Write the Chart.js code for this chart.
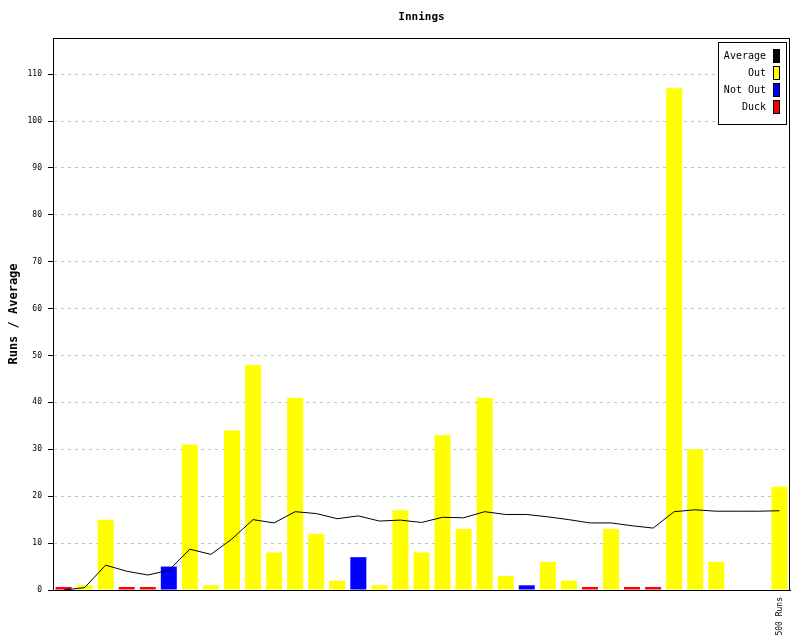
<!DOCTYPE html>
<html>
<head>
<meta charset="utf-8">
<title>Innings</title>
<script src="https://cdn.jsdelivr.net/npm/chart.js@4.4.0/dist/chart.umd.min.js"></script>
<style>
  html, body { margin: 0; padding: 0; background: #fff; }
  #wrap { width: 800px; height: 640px; }
</style>
</head>
<body>
<div id="wrap"><canvas id="inningsChart" width="800" height="640"></canvas></div>
<script>
// innings data
const inningsLabels = ['', '', '', '', '', '', '', '', '', '', '', '', '', '', '', '', '', '',
  '', '', '', '', '', '', '', '', '', '', '', '', '', '', '', '', '500 Runs'];

const outRuns = [null, 1, 15, null, null, null, 31, 1, 34, 48, 8, 41, 12, 2, null, 1, 17, 8,
  33, 13, 41, 3, null, 6, 2, null, 13, null, null, 107, 30, 6, null, null, 22];

const notOutRuns = [null, null, null, null, null, 5, null, null, null, null, null, null, null, null, 7, null, null, null,
  null, null, null, null, 1, null, null, null, null, null, null, null, null, null, 0, 0, null];

const duckRuns = [0, null, null, 0, 0, null, null, null, null, null, null, null, null, null, null, null, null, null,
  null, null, null, null, null, null, null, 0, null, 0, 0, null, null, null, null, null, null];

const averageRuns = [0, 0.5, 5.3, 4, 3.2, 4.2, 8.7, 7.6, 10.9, 15, 14.3, 16.7, 16.3, 15.2, 15.8, 14.7, 14.9, 14.4,
  15.5, 15.4, 16.7, 16.1, 16.1, 15.6, 15, 14.3, 14.3, 13.7, 13.2, 16.7, 17.1, 16.8, 16.8, 16.8, 16.9];

const MONO = '"DejaVu Sans Mono", "Liberation Mono", monospace';

// title, frame round the plot and the boxed legend in the top right corner
const innerBits = {
  id: 'innerBits',
  afterDraw(chart) {
    const ctx = chart.ctx;
    const a = chart.chartArea;
    ctx.save();

    ctx.fillStyle = '#000';
    ctx.font = 'bold 11px ' + MONO;
    ctx.textAlign = 'center';
    ctx.textBaseline = 'middle';
    ctx.fillText('Innings', (a.left + a.right) / 2, 17);

    ctx.strokeStyle = '#000';
    ctx.lineWidth = 1;
    ctx.strokeRect(Math.round(a.left) + 0.5, Math.round(a.top) + 0.5,
      Math.round(a.right - a.left) - 1, Math.round(a.bottom - a.top));

    const bx = Math.round(a.right) - 72, by = Math.round(a.top) + 4;
    ctx.fillStyle = '#fff';
    ctx.fillRect(bx, by, 68, 82);
    ctx.strokeRect(bx + 0.5, by + 0.5, 68, 82);

    ctx.font = '10px ' + MONO;
    ctx.textAlign = 'right';
    chart.data.datasets.forEach(function (ds, i) {
      const y = by + 14 + i * 17;
      ctx.fillStyle = '#000';
      ctx.fillText(ds.label, bx + 48, y);
      ctx.fillStyle = ds.legendColor;
      ctx.fillRect(bx + 55, y - 7, 7, 14);
      ctx.strokeRect(bx + 55.5, y - 6.5, 6, 13);
    });
    ctx.restore();
  }
};

document.addEventListener("DOMContentLoaded", function () {

  const data = {
    labels: inningsLabels,
    datasets: [{
      type: 'line',
      label: 'Average',
      data: averageRuns,
      borderColor: '#000',
      borderWidth: 1,
      pointRadius: 0,
      tension: 0,
      legendColor: '#000'
    }, {
      label: 'Out',
      data: outRuns,
      backgroundColor: '#ffff00',
      legendColor: '#ffff00'
    }, {
      label: 'Not Out',
      data: notOutRuns,
      backgroundColor: '#0000ff',
      legendColor: '#0000ff'
    }, {
      label: 'Duck',
      data: duckRuns,
      backgroundColor: '#ff0000',
      minBarLength: 3,
      legendColor: '#ff0000'
    }]
  };

  const config = {
    type: 'bar',
    data,
    options: {
      responsive: false,
      animation: false,
      layout: { padding: { top: 38, right: 10, left: 0, bottom: 0 } },
      datasets: {
        bar: { barPercentage: 0.76, categoryPercentage: 1 }
      },
      scales: {
        x: {
          stacked: true,
          grid: { display: false, drawTicks: false, tickLength: 0 },
          border: { color: '#000', width: 1 },
          ticks: {
            autoSkip: false,
            minRotation: 90,
            maxRotation: 90,
            padding: 7,
            color: '#000',
            font: { family: MONO, size: 8 }
          },
          afterFit(scale) { scale.height = 50; }
        },
        y: {
          min: 0,
          max: 117.7,
          grid: {
            color: '#c4c4c4',
            tickColor: '#000',
            tickLength: 5,
            tickBorderDash: []
          },
          border: { color: '#000', width: 1, dash: [3, 4] },
          ticks: {
            stepSize: 10,
            includeBounds: false,
            padding: 6,
            color: '#000',
            font: { family: MONO, size: 8 }
          },
          title: {
            display: true,
            text: 'Runs / Average',
            color: '#000',
            font: { family: MONO, size: 12, weight: 'bold' },
            padding: { top: 7, bottom: 4 }
          },
          afterFit(scale) { scale.width = 53; }
        }
      },
      plugins: {
        legend: { display: false },
        title: { display: false },
        tooltip: { enabled: false }
      }
    },
    plugins: [innerBits]
  };

  new Chart(
    document.getElementById('inningsChart'),
    config
  );
})
</script>
</body>
</html>
